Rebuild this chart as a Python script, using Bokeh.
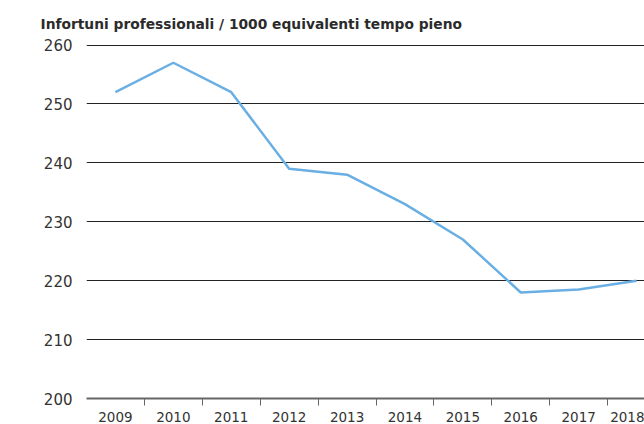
from bokeh.plotting import figure
from bokeh.models import Range1d, FixedTicker, Title
from bokeh.embed import file_html
from bokeh.resources import INLINE

years = ["2009", "2010", "2011", "2012", "2013", "2014", "2015", "2016", "2017", "2018"]
values = [252, 257, 252, 239, 238, 233, 227, 218, 218.5, 220]
y_ticks = [200, 210, 220, 230, 240, 250, 260]
title_text = "Infortuni professionali / 1000 equivalenti tempo pieno"

FONT = "DejaVu Sans"
xs = list(range(len(years)))

p = figure(width=644, height=424, output_backend="svg", toolbar_location=None,
           x_range=Range1d(-0.5, 9.137), y_range=Range1d(200, 260.1),
           min_border_left=86, min_border_right=0, min_border_top=44, min_border_bottom=25)
p.outline_line_color = None
p.background_fill_color = "white"

t = Title(text=title_text, text_font=FONT, text_font_size="13.8px", text_font_style="bold",
          text_color="#2b2b2b", align="left", offset=-46, standoff=26)
p.title = t

p.line(xs, values, line_color="#6aafe3", line_width=2.5)

# x axis
p.xaxis.ticker = FixedTicker(ticks=xs, minor_ticks=[i + 0.5 for i in xs[:-1]])
p.xaxis.major_label_overrides = {i: y for i, y in enumerate(years)}
p.xaxis.major_tick_line_color = None
p.xaxis.minor_tick_in = 0
p.xaxis.minor_tick_out = 7
p.xaxis.minor_tick_line_color = "#666666"
p.xaxis.minor_tick_line_width = 1
p.xaxis.axis_line_color = "#666666"
p.xaxis.axis_line_width = 2
p.xaxis.major_label_text_font = FONT
p.xaxis.major_label_text_font_size = "13.5px"
p.xaxis.major_label_text_color = "#333333"
p.xaxis.major_label_standoff = 6
p.xgrid.grid_line_color = None

# y axis
p.yaxis.ticker = FixedTicker(ticks=y_ticks)
p.yaxis.axis_line_color = None
p.yaxis.major_tick_line_color = None
p.yaxis.minor_tick_line_color = None
p.yaxis.major_label_text_font = FONT
p.yaxis.major_label_text_font_size = "15px"
p.yaxis.major_label_text_color = "#333333"
p.yaxis.major_label_standoff = 8
p.ygrid.ticker = FixedTicker(ticks=y_ticks[1:])
p.ygrid.grid_line_color = "#222222"
p.ygrid.grid_line_width = 1

open("out.html", "w").write(file_html(p, INLINE))
